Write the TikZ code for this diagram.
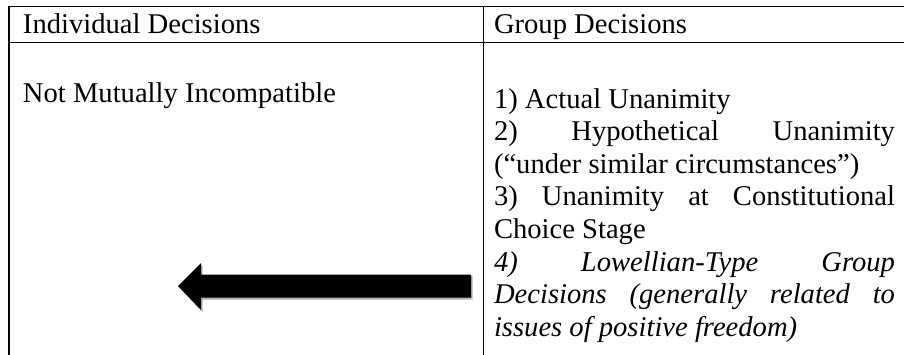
\documentclass[tikz,border=0pt]{standalone}
\usepackage{fontspec}
\setmainfont{Liberation Serif}
\begin{document}
\begin{tikzpicture}[x=1pt,y=-1pt,
  txt/.style={anchor=base west,inner sep=0pt,outer sep=0pt,font=\fontsize{28.6}{33}\selectfont},
  rule/.style={line width=1.5pt,line cap=rect},
  arrowfill/.style={fill=black},
  arrowshadow/.style={fill=black!30}]
\useasboundingbox (0,0) rectangle (904,355);
% table rules
\coordinate (tl) at (9,6.5);
\coordinate (tr) at (910,6.5);
\coordinate (hl) at (9,42.5);
\coordinate (hr) at (910,42.5);
\coordinate (bl) at (9,360);
\coordinate (mt) at (483.5,6.5);
\coordinate (mb) at (483.5,360);
\draw[rule] (tl) -- (tr);
\draw[rule] (hl) -- (hr);
\draw[rule] (tl) -- (bl);
\draw[rule] (mt) -- (mb);
% header
\node[txt] (h1) at (23,34) {Individual Decisions};
\node[txt] (h2) at (494,34) {Group Decisions};
% left column
\node[txt] (l1) at (23,103) {Not Mutually Incompatible};
% right column
\def\W{401pt}
\node[txt] (r1) at (494,109) {1) Actual Unanimity};
\node[txt] (r2) at (494,141) {\makebox[\W][s]{2) Hypothetical Unanimity}};
\node[txt] (r3) at (494,173.5) {(“under similar circumstances”)};
\node[txt] (r4) at (494,206) {\makebox[\W][s]{3) Unanimity at Constitutional}};
\node[txt] (r5) at (494,238.5) {Choice Stage};
\node[txt] (r6) at (494,271) {\itshape\makebox[\W][s]{4) Lowellian-Type Group}};
\node[txt] (r7) at (494,303.5) {\itshape\makebox[\W][s]{Decisions (generally related to}};
\node[txt] (r8) at (494,336) {\itshape issues of positive freedom)};
% arrow
\fill[arrowshadow] (179.5,288) -- (202.5,265) -- (202.5,276) -- (472.5,276) -- (472.5,299.5) -- (202.5,299.5) -- (202.5,312) -- cycle;
\fill[arrowfill] (178,286) -- (201,263) -- (201,274.5) -- (471,274.5) -- (471,297.5) -- (201,297.5) -- (201,310) -- cycle;
\end{tikzpicture}
\end{document}
